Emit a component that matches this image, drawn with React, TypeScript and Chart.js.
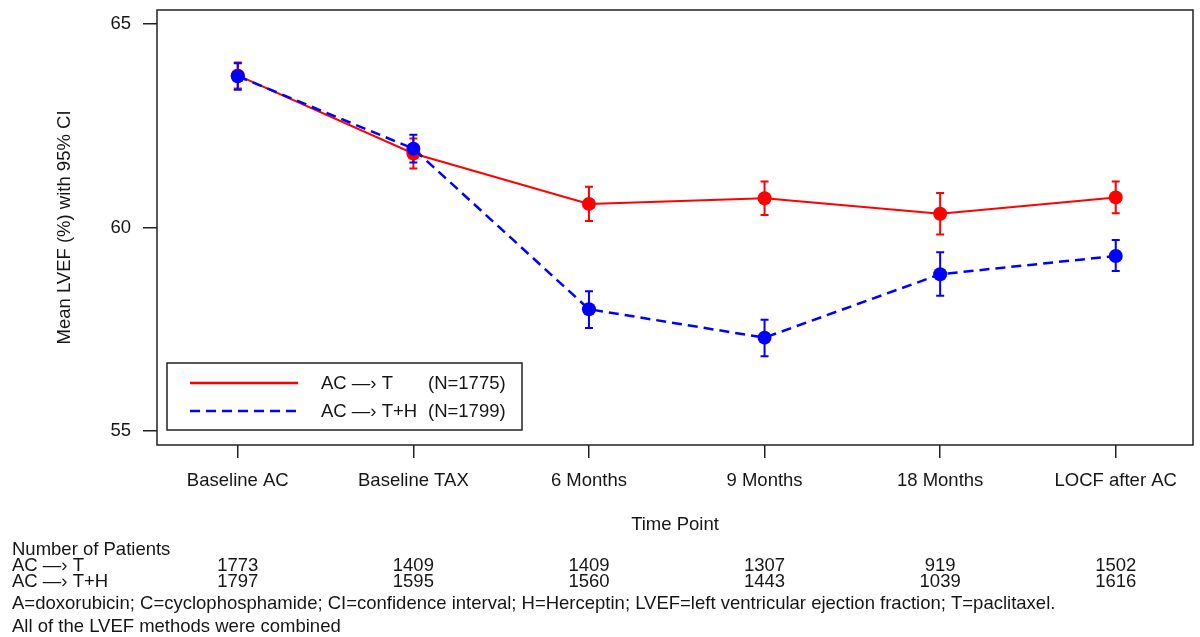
import { useEffect, useRef } from 'react';
import { Chart, registerables } from 'chart.js';

Chart.register(...registerables);

// Time points on the x axis
const timePoints = ['Baseline AC', 'Baseline TAX', '6 Months', '9 Months', '18 Months', 'LOCF after AC'];

// AC -> T arm: mean LVEF (%) and 95% CI bounds
const acTMean = [63.74, 61.82, 60.58, 60.72, 60.34, 60.74];
const acTLower = [63.42, 61.45, 60.16, 60.31, 59.83, 60.35];
const acTUpper = [64.06, 62.19, 61.0, 61.13, 60.85, 61.13];

// AC -> T+H arm: mean LVEF (%) and 95% CI bounds
const acTHMean = [63.72, 61.94, 57.99, 57.29, 58.85, 59.3];
const acTHLower = [63.39, 61.6, 57.53, 56.83, 58.32, 58.93];
const acTHUpper = [64.04, 62.28, 58.43, 57.73, 59.39, 59.69];

// Number of patients at each time point
const nACT = [1773, 1409, 1409, 1307, 919, 1502];
const nACTH = [1797, 1595, 1560, 1443, 1039, 1616];

const yTicks = [55, 60, 65];

const armACT = 'AC \u2014\u203A T';
const armACTH = 'AC \u2014\u203A T+H';
const nTotalACT = '(N=1775)';
const nTotalACTH = '(N=1799)';

const yTitle = 'Mean LVEF (%) with 95% CI';
const xTitle = 'Time Point';
const tableTitle = 'Number of Patients';
const footnote1 =
  'A=doxorubicin; C=cyclophosphamide; CI=confidence interval; H=Herceptin; LVEF=left ventricular ejection fraction; T=paclitaxel.';
const footnote2 = 'All of the LVEF methods were combined';

const RED = '#ff0000';
const BLUE = '#0000ff';
const FONT = '"Liberation Sans", Arial, Helvetica, sans-serif';
const TEXT = '#161616';
const FS = 18.5;

const ciSeries = [
  { color: RED, lower: acTLower, upper: acTUpper },
  { color: BLUE, lower: acTHLower, upper: acTHUpper },
];

const errorBarPlugin = {
  id: 'errorBars',
  beforeDatasetsDraw(chart: any) {
    const { ctx, scales } = chart;
    const x = scales.x;
    const y = scales.y;
    ctx.save();
    ctx.lineWidth = 2;
    ciSeries.forEach((s) => {
      ctx.strokeStyle = s.color;
      s.lower.forEach((lo, i) => {
        const px = x.getPixelForValue(i);
        const top = y.getPixelForValue(s.upper[i]);
        const bot = y.getPixelForValue(lo);
        ctx.beginPath();
        ctx.moveTo(px, top);
        ctx.lineTo(px, bot);
        ctx.moveTo(px - 4, top);
        ctx.lineTo(px + 4, top);
        ctx.moveTo(px - 4, bot);
        ctx.lineTo(px + 4, bot);
        ctx.stroke();
      });
    });
    ctx.restore();
  },
};

const decorPlugin = {
  id: 'decor',
  afterDraw(chart: any) {
    const { ctx, chartArea, scales } = chart;
    const x = scales.x;
    ctx.save();

    // plot frame
    ctx.strokeStyle = '#222';
    ctx.lineWidth = 1.5;
    ctx.strokeRect(
      chartArea.left,
      chartArea.top,
      chartArea.right - chartArea.left,
      chartArea.bottom - chartArea.top
    );

    // legend box
    ctx.strokeRect(167, 363, 355, 67);
    ctx.lineWidth = 2.5;
    ctx.strokeStyle = RED;
    ctx.beginPath();
    ctx.moveTo(190, 383);
    ctx.lineTo(298, 383);
    ctx.stroke();
    ctx.strokeStyle = BLUE;
    ctx.setLineDash([10, 6]);
    ctx.beginPath();
    ctx.moveTo(190, 411);
    ctx.lineTo(298, 411);
    ctx.stroke();
    ctx.setLineDash([]);

    ctx.fillStyle = TEXT;
    ctx.font = `${FS}px ${FONT}`;
    ctx.textBaseline = 'middle';
    ctx.textAlign = 'left';
    ctx.fillText(armACT, 321, 384);
    ctx.fillText(nTotalACT, 428, 384);
    ctx.fillText(armACTH, 321, 412);
    ctx.fillText(nTotalACTH, 428, 412);

    // axis titles
    ctx.textAlign = 'center';
    ctx.fillText(xTitle, (chartArea.left + chartArea.right) / 2, 525);
    ctx.save();
    ctx.translate(65, (chartArea.top + chartArea.bottom) / 2);
    ctx.rotate(-Math.PI / 2);
    ctx.fillText(yTitle, 0, 0);
    ctx.restore();

    // patient counts table
    ctx.textAlign = 'left';
    ctx.fillText(tableTitle, 12, 550);
    ctx.fillText(armACT, 12, 566);
    ctx.fillText(armACTH, 12, 582);
    ctx.textAlign = 'center';
    nACT.forEach((n, i) => ctx.fillText(String(n), x.getPixelForValue(i), 566));
    nACTH.forEach((n, i) => ctx.fillText(String(n), x.getPixelForValue(i), 582));

    ctx.textAlign = 'left';
    ctx.fillText(footnote1, 12, 604);
    ctx.fillText(footnote2, 12, 627);
    ctx.restore();
  },
};

export default function App() {
  const canvasRef = useRef<HTMLCanvasElement | null>(null);

  useEffect(() => {
    const canvas = canvasRef.current;
    if (!canvas) return;
    const chart = new Chart(canvas, {
      type: 'line',
      data: {
        datasets: [
          {
            label: armACTH,
            data: acTHMean.map((v, i) => ({ x: i, y: v })),
            borderColor: BLUE,
            backgroundColor: BLUE,
            borderWidth: 2.5,
            borderDash: [10, 6],
            pointRadius: 7,
            pointBorderWidth: 0,
            pointBackgroundColor: BLUE,
            order: 1,
          },
          {
            label: armACT,
            data: acTMean.map((v, i) => ({ x: i, y: v })),
            borderColor: RED,
            backgroundColor: RED,
            borderWidth: 2,
            pointRadius: 7,
            pointBorderWidth: 0,
            pointBackgroundColor: RED,
            order: 2,
          },
        ],
      },
      options: {
        responsive: false,
        devicePixelRatio: 1,
        animation: false,
        layout: { padding: { top: 10, right: 5, left: 0, bottom: 0 } },
        plugins: { legend: { display: false }, tooltip: { enabled: false } },
        scales: {
          x: {
            type: 'linear',
            min: -0.46,
            max: 5.44,
            afterBuildTicks: (s: any) => {
              s.ticks = timePoints.map((_, i) => ({ value: i }));
            },
            afterFit: (s: any) => {
              s.height = 192;
              s.paddingLeft = 0;
              s.paddingRight = 0;
            },
            ticks: {
              callback: (v: any) => timePoints[v] ?? '',
              font: { size: FS, family: FONT },
              color: TEXT,
              padding: 12,
              autoSkip: false,
              maxRotation: 0,
            },
            grid: { drawOnChartArea: false, drawTicks: true, tickLength: 13, color: '#222', lineWidth: 1.5 },
            border: { display: false },
          },
          y: {
            type: 'linear',
            min: 54.65,
            max: 65.35,
            afterBuildTicks: (s: any) => {
              s.ticks = yTicks.map((v) => ({ value: v }));
            },
            afterFit: (s: any) => {
              s.width = 157;
              s.paddingTop = 0;
              s.paddingBottom = 0;
            },
            ticks: {
              font: { size: FS, family: FONT },
              color: TEXT,
              padding: 12,
            },
            grid: { drawOnChartArea: false, drawTicks: true, tickLength: 14, color: '#222', lineWidth: 1.5 },
            border: { display: false },
          },
        },
      },
      plugins: [errorBarPlugin, decorPlugin],
    } as any);
    return () => chart.destroy();
  }, []);

  return (
    <div style={{ position: 'absolute', left: 0, top: 0, width: 1200, height: 637, background: '#fff' }}>
      <canvas ref={canvasRef} width={1200} height={637} style={{ display: 'block' }} />
    </div>
  );
}
